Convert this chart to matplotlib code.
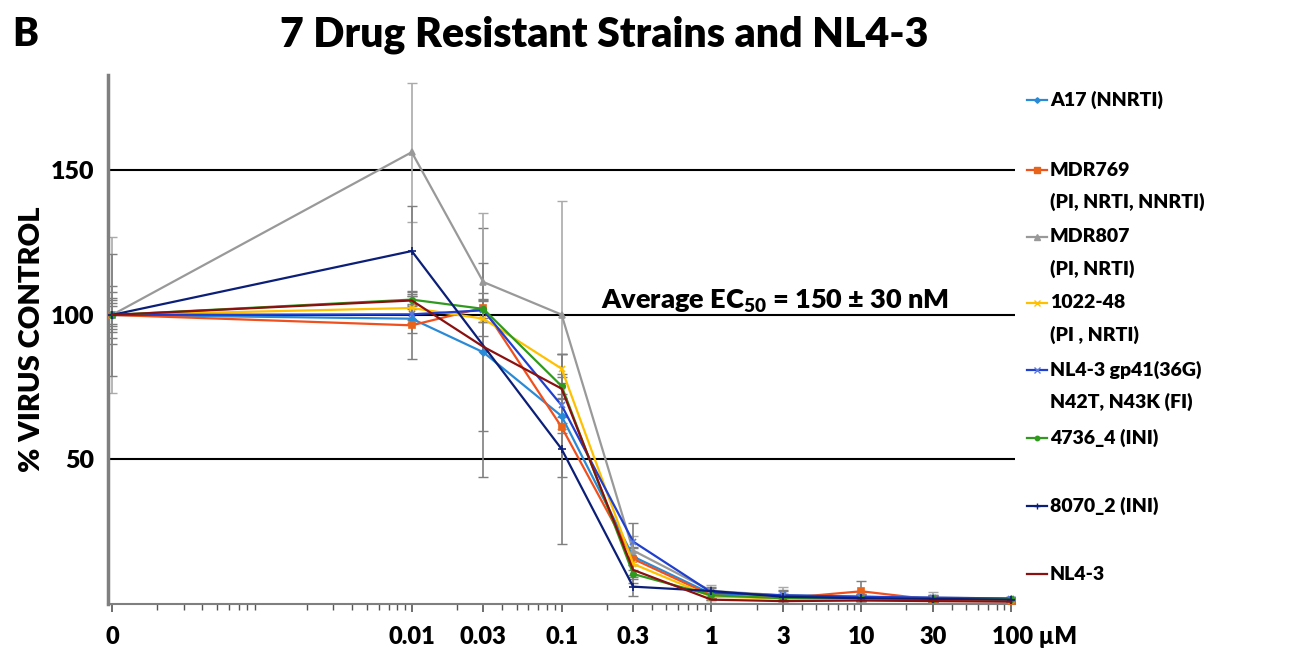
import numpy as np
import matplotlib
matplotlib.use("Agg")
import matplotlib.pyplot as plt
from matplotlib.lines import Line2D
from matplotlib.ticker import LogLocator, NullFormatter
import matplotlib.transforms as mtransforms

plt.rcParams['font.family'] = ['Lato', 'DejaVu Sans']
plt.rcParams['font.weight'] = 'heavy'
plt.rcParams['mathtext.fontset'] = 'custom'
plt.rcParams['mathtext.bf'] = 'Lato:heavy'
plt.rcParams['mathtext.rm'] = 'Lato:heavy'

# concentrations (uM); "0" is drawn at 1e-4 on the log axis
conc = [1e-4, 0.01, 0.03, 0.1, 0.3, 1, 3, 10, 30, 100]
conc_labels = ["0", "0.01", "0.03", "0.1", "0.3", "1", "3", "10", "30", "100 \u00b5M"]

names = ["A17 (NNRTI)", "MDR769\n(PI, NRTI, NNRTI)", "MDR807\n(PI, NRTI)",
         "1022-48\n(PI , NRTI)", "NL4-3 gp41(36G)\nN42T, N43K (FI)",
         "4736_4 (INI)", "8070_2 (INI)", "NL4-3"]

a17 = [100, 98.7, 87.1, 65.0, 16.4, 3.5, 3.0, 2.5, 2.0, 1.8]
mdr769 = [100, 96.4, 102.5, 61.2, 15.6, 3.0, 2.0, 4.4, 1.5, 1.2]
mdr807 = [100, 156.3, 111.4, 100.1, 18.5, 4.5, 3.0, 2.5, 2.2, 1.9]
s1022 = [100, 102.4, 98.7, 81.4, 13.9, 2.5, 2.0, 2.0, 1.8, 1.5]
gp41 = [100, 100.2, 101.6, 68.7, 21.6, 4.0, 3.0, 2.5, 2.2, 1.9]
s4736 = [100, 105.3, 102.1, 75.4, 10.4, 3.0, 2.0, 2.0, 1.8, 1.6]
s8070 = [100, 122.1, np.nan, 53.6, 6.0, 4.5, 2.5, 2.0, 1.8, 1.5]
nl43 = [100, 105.0, 89.0, 74.5, 11.8, 1.5, 1.0, 1.2, 1.0, 0.8]

a17_err = [8, 5, 43, 6, 3, 1.5, 1.5, 1, 1, 0.5]
mdr769_err = [10, 11.8, 5, 17.3, 4, 1.5, 1.5, 3.5, 1, 0.5]
mdr807_err = [27, 24, 24, 39.4, 5, 2, 3, 1.5, 2, 0.5]
s1022_err = [6, 4, 6, 5, 4, 1, 1.5, 1, 1, 0.5]
gp41_err = [5, 3, 4, 4, 6.4, 2, 2, 1, 1, 0.5]
s4736_err = [3, 2, 3, 4, 3, 1, 1, 1, 1, 0.5]
s8070_err = [21, 15.5, np.nan, 33, 3.4, 1, 1, 1, 1, 0.5]
nl43_err = [4, 3, 29, 12, 3, 1, 1, 1, 1, 0.5]

series = [a17, mdr769, mdr807, s1022, gp41, s4736, s8070, nl43]
errors = [a17_err, mdr769_err, mdr807_err, s1022_err, gp41_err, s4736_err, s8070_err, nl43_err]
colors = ["#2a8ad6", "#f0501e", "#999999", "#ffc000", "#1f3fcf", "#2f9a1e", "#0c1f78", "#8b1010"]
mcolors = ["#2a8ad6", "#e8641a", "#999999", "#ffc000", "#5a7ae0", "#2f9a1e", "#0c1f78", "#8b1010"]
markers = ["D", "s", "^", "x", "x", "o", "+", "None"]
msizes = [3.5, 5, 5, 5, 5, 4, 6, 0]
err_colors = ["#7f7f7f", "#7f7f7f", "#aaaaaa", "#7f7f7f", "#7f7f7f", "#7f7f7f", "#7f7f7f", "#7f7f7f"]

fig = plt.figure(figsize=(12.97, 6.64), dpi=100)
ax = fig.add_axes([108 / 1297, 60 / 664, 907 / 1297, 529 / 664])

x = np.array(conc)
for y, e, c, mc, m, ms, ec in zip(series, errors, colors, mcolors, markers, msizes, err_colors):
    y = np.array(y)
    e = np.array(e)
    ok = np.isfinite(y)
    ax.errorbar(x[ok], y[ok], yerr=e[ok], fmt='none', ecolor=ec, elinewidth=1.2,
                capsize=3.5, capthick=1.0, zorder=2)
    ax.plot(x[ok], y[ok], color=c, lw=1.6, marker=m, ms=ms, mfc=mc, mec=mc,
            mew=1.2, zorder=3)

for v in [50, 100, 150]:
    ax.axhline(v, color='black', lw=1.5, zorder=1)

ax.set_xscale('log')
ax.set_xlim(0.94e-4, 106)
ax.set_ylim(0, 183)

ax.set_xticks(conc)
ax.set_xticklabels(conc_labels, fontweight='heavy')
ax.xaxis.set_minor_locator(LogLocator(base=10, subs=np.arange(2, 10), numticks=20))
ax.xaxis.set_minor_formatter(NullFormatter())
ax.tick_params(axis='x', which='major', length=6, width=1.2, color='#555555',
               labelsize=17, pad=10)
ax.tick_params(axis='x', which='minor', length=4, width=1.0, color='#555555')

# "100" sits on its tick, the unit trails after it
lab = ax.get_xticklabels()[-1]
lab.set_ha('left')
lab.set_transform(lab.get_transform() + mtransforms.ScaledTranslation(-19 / 100, 0, fig.dpi_scale_trans))

ax.set_yticks([50, 100, 150])
ax.set_yticklabels(["50", "100", "150"], fontweight='heavy')
ax.tick_params(axis='y', length=0, labelsize=18, pad=10)

ax.spines['top'].set_visible(False)
ax.spines['right'].set_visible(False)
ax.spines['left'].set_color('#7f7f7f')
ax.spines['left'].set_linewidth(2.5)
ax.spines['bottom'].set_color('#7f7f7f')
ax.spines['bottom'].set_linewidth(1.5)

ax.set_ylabel("% VIRUS CONTROL", fontsize=21, fontweight='heavy')
ax.yaxis.set_label_coords(-0.069, 0.5)

ax.text(0.5436, 0.572, "Average EC$_{\\mathbf{50}}$ = 150 \u00b1 30 nM", transform=ax.transAxes,
        fontsize=19.5, fontweight='heavy', ha='left', va='center')

fig.text(12 / 1297, 1 - 35 / 664, "B", fontsize=28, fontweight='heavy', va='center')
fig.text(604 / 1297, 1 - 35 / 664, "7 Drug Resistant Strains and NL4-3", fontsize=29.5,
         fontweight='heavy', ha='center', va='center')

# legend drawn by hand on the right
leg_y = [100, 170, 237, 303, 370, 438, 506, 574]
for name, yy, c, mc, m, ms in zip(names, leg_y, colors, mcolors, markers, msizes):
    yf = 1 - yy / 664
    fig.add_artist(Line2D([1027 / 1297, 1047 / 1297], [yf, yf], color=c, lw=1.6))
    fig.add_artist(Line2D([1037 / 1297], [yf], color=c, marker=m, ms=ms * 0.8,
                          mfc=mc, mec=mc, lw=0))
    for i, line in enumerate(name.split("\n")):
        fig.text(1050 / 1297, yf - i * 32 / 664, line, fontsize=14, fontweight='heavy',
                 va='center', ha='left')

fig.savefig("out.png", dpi=100)
